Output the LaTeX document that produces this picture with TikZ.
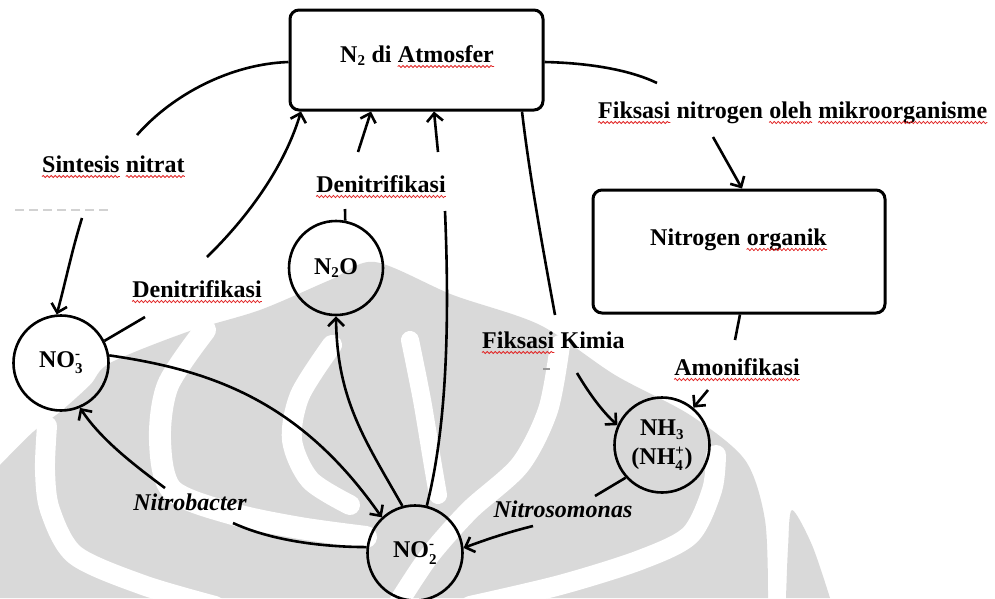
\documentclass[tikz,border=0pt]{standalone}
\usepackage{fontspec}
\setmainfont{Liberation Serif}
\usetikzlibrary{arrows.meta,decorations.pathmorphing}
\definecolor{wm}{gray}{0.85}
\definecolor{spellred}{RGB}{225,40,40}
\newcommand\scr[1]{\hbox{\fontsize{15}{15}\selectfont\bfseries #1}}
\newcommand\ionsym[3]{#1\({}^{\scr{#3}}_{\scr{#2}}\)}
\newcommand\subs[1]{\({}_{\scr{#1}}\)}
\tikzset{
  lbl/.style={font=\fontsize{24}{28}\selectfont\bfseries, inner sep=0pt, anchor=base},
  ilbl/.style={font=\fontsize{24}{28}\selectfont\bfseries\itshape, inner sep=0pt, anchor=base},
  wlbl/.style={font=\fontsize{24}{28}\selectfont\bfseries, inner sep=0pt, anchor=base west},
  ionc/.style={circle, draw, line width=2.6pt, minimum size=95pt, inner sep=0pt, font=\fontsize{24}{29}\selectfont\bfseries},
  pbox/.style={draw, line width=3pt, rounded corners=9pt, inner sep=0pt},
  conn/.style={line width=2.6pt},
  arr/.style={line width=2.6pt, -{Straight Barb[length=8pt,width=16pt,line width=2.6pt]}},
  wstripe/.style={white, line width=#1, line cap=round},
  squig/.style={spellred, line width=0.8pt, decorate, decoration={snake, segment length=4pt, amplitude=1.1pt}},
}
\newcommand\squig[1]{\draw[squig] ([yshift=-4.5pt]#1.base west) -- ([yshift=-4.5pt]#1.base east);}
\begin{document}
\begin{tikzpicture}[x=1pt,y=-1pt]
\useasboundingbox (0,0) rectangle (995,598);
% ---- watermark (approximate) ----
\fill[wm] plot[smooth] coordinates {(0,465) (33,432) (60,412) (90,385) (110,363) (187,332) (260,310) (330,280) (375,262) (453,295) (540,325) (615,375) (690,415) (745,460) (765,520) (768,598)} -- (0,598) -- cycle;
\fill[wm] plot[smooth] coordinates {(786,598) (788,548) (792,510) (812,545) (830,598)} -- cycle;
\draw[wstripe=20pt] plot[smooth] coordinates {(47,426) (45,470) (50,510) (75,555) (143,585) (215,606)};
\draw[wstripe=22pt] plot[smooth] coordinates {(205,330) (168,385) (160,440) (172,490) (233,514) (300,528) (366,537)};
\draw[wstripe=20pt] plot[smooth] coordinates {(332,345) (300,395) (292,440) (310,480) (350,505)};
\draw[wstripe=18pt] plot[smooth] coordinates {(410,340) (422,400) (432,460) (438,495)};
\draw[wstripe=20pt] plot[smooth] coordinates {(560,345) (548,410) (520,465) (470,510) (430,555) (400,600)};
\draw[wstripe=20pt] plot[smooth] coordinates {(470,606) (560,585) (640,560) (690,535) (712,490) (716,455)};
% ---- boxes ----
\node[pbox, minimum width=253pt, minimum height=100pt] (atm) at (416.5,60) {};
\node[pbox, minimum width=292pt, minimum height=123pt] (org) at (739,251.5) {};
% ---- circles ----
\node[ionc] (no3) at (61,363) {\ionsym{NO}{3}{-}};
\node[ionc, minimum size=94pt] (n2o) at (336,268) {N\subs{2}O};
\node[ionc] (no2) at (415,553) {\ionsym{NO}{2}{-}};
\node[ionc, align=center] (nh3) at (662,445) {NH\subs{3}\\(NH\ionsym{}{4}{+})};
% ---- labels ----
\node[wlbl] (atmA) at (340,62) {N\subs{2} di};
\node[wlbl] (atmB) at ([xshift=6pt]atmA.base east) {Atmosfer};
\node[wlbl] (orgA) at (650,245) {Nitrogen};
\node[wlbl] (orgB) at ([xshift=6pt]orgA.base east) {organik};
\node[wlbl] (sintA) at (42,172) {Sintesis};
\node[wlbl] (sintB) at ([xshift=6pt]sintA.base east) {nitrat};
\node[lbl] (denl) at (197,297) {Denitrifikasi};
\node[lbl] (denm) at (381,192) {Denitrifikasi};
\node[wlbl] (fiksA) at (598,118) {Fiksasi};
\node[wlbl] (fiksB) at ([xshift=6pt]fiksA.base east) {nitrogen};
\node[wlbl] (fiksC) at ([xshift=6pt]fiksB.base east) {oleh};
\node[wlbl] (fiksD) at ([xshift=6pt]fiksC.base east) {mikroorganisme};
\node[wlbl] (kimA) at (482,348) {Fiksasi};
\node[wlbl] (kimB) at ([xshift=6pt]kimA.base east) {Kimia};
\node[lbl] (amon) at (737,375) {Amonifikasi};
\node[ilbl] (nbact) at (190,510) {Nitrobacter};
\node[ilbl] (nsom) at (563,517) {Nitrosomonas};
\squig{atmB}
\squig{orgB}
\squig{sintA}
\squig{sintB}
\squig{denl}
\squig{denm}
\squig{fiksA}
\squig{fiksC}
\squig{fiksD}
\squig{kimA}
\squig{amon}
% ---- free ends ----
\coordinate (cSintA) at (137,135);
\coordinate (cSintB) at (82,218);
\coordinate (cDenL) at (145,317);
\coordinate (cDenLb) at (207,257);
\coordinate (cDenM1) at (358,152);
\coordinate (cDenM2) at (438,152);
\coordinate (cN2oStub) at (345,209);
\coordinate (cVtop) at (445,211);
\coordinate (cNbA) at (233,523);
\coordinate (cNbB) at (165,488);
\coordinate (cFkA) at (555,315);
\coordinate (cFkB) at (577,373);
\coordinate (cAmA) at (735,340);
\coordinate (cAmB) at (708,390);
\coordinate (cFnA) at (657,83);
\coordinate (cFnB) at (713,137);
\coordinate (cNsA) at (595,496);
\coordinate (cNsB) at (533,526);
% ---- connectors ----
\draw[conn] (atm.west |- 0,62) .. controls (230,64) and (172,95) .. (cSintA);
\draw[arr] (cSintB) .. controls (72,250) and (66,280) .. (no3.95);
\draw[conn] (no3.27) -- (cDenL);
\draw[arr] (cDenLb) .. controls (250,215) and (285,165) .. (301,0 |- atm.south);
\draw[arr] (cDenM1) -- (371,0 |- atm.south);
\draw[arr] (cDenM2) -- (434,0 |- atm.south);
\draw[conn] (n2o.79) -- (cN2oStub);
\draw[conn] (cVtop) .. controls (450,330) and (446,430) .. (no2.76);
\draw[arr] (no2.105) .. controls (365,440) and (337,400) .. (n2o.-90);
\draw[arr] (no3.9) .. controls (210,370) and (300,400) .. (no2.133);
\draw[conn] (no2.173) .. controls (320,547) and (270,540) .. (cNbA);
\draw[arr] (cNbB) .. controls (130,462) and (100,438) .. (no3.-67);
\draw[conn] (522,0 |- atm.south) .. controls (530,180) and (545,260) .. (cFkA);
\draw[arr] (cFkB) .. controls (590,395) and (603,412) .. (nh3.156);
\draw[conn] (740,0 |- org.south) -- (cAmA);
\draw[arr] (cAmB) -- (nh3.50);
\draw[conn] (atm.east |- 0,62) .. controls (590,63) and (630,70) .. (cFnA);
\draw[arr] (cFnB) -- (742,0 |- org.north);
\draw[conn] (nh3.222) -- (cNsA);
\draw[arr] (cNsB) .. controls (505,533) and (485,540) .. (no2.6);
% ---- stray marks ----
\draw[gray!35, line width=1.2pt, dash pattern=on 9pt off 5pt] (15,210) -- (108,210);
\draw[gray!80, line width=1.5pt] (543,369) -- (550,369);
\end{tikzpicture}
\end{document}
